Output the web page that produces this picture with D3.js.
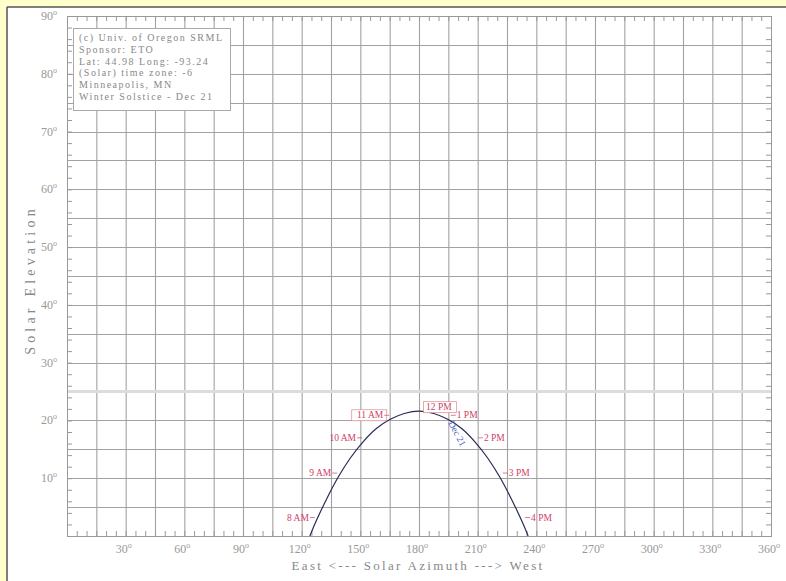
<!DOCTYPE html>
<meta charset="utf-8">
<style>
    html,
    body {
        margin: 0;
        padding: 0;
        background: #fff;
        overflow: hidden;
    }

    svg {
        display: block;
        font-family: "Liberation Serif", "DejaVu Serif", serif;
    }
</style>

<body>
    <svg width="786" height="581"></svg>
    <script src="https://cdn.jsdelivr.net/npm/d3@7"></script>
    <script>
        // sun path, winter solstice (azimuth deg, elevation deg)
        const azimuth = [124.2, 127.3, 132.9, 138.7, 144.9, 151.4, 158.2, 165.3, 172.5, 180, 187.5, 194.7, 201.8, 208.6, 215.1, 221.3, 227.1, 232.7, 235.8];
        const elevation = [0, 2.5, 6.5, 10.2, 13.5, 16.3, 18.6, 20.2, 21.2, 21.6, 21.2, 20.2, 18.6, 16.3, 13.5, 10.2, 6.5, 2.5, 0];

        // hourly marks
        const hourNames = ["8 AM", "9 AM", "10 AM", "11 AM", "12 PM", "1 PM", "2 PM", "3 PM", "4 PM"];
        const hourAz = [127.3, 138.7, 151.4, 165.3, 180, 194.7, 208.6, 221.3, 232.7];
        const hourEl = [2.5, 10.2, 16.3, 20.2, 21.6, 20.2, 16.3, 10.2, 2.5];

        const xTicks = [30, 60, 90, 120, 150, 180, 210, 240, 270, 300, 330, 360];
        const yTicks = [10, 20, 30, 40, 50, 60, 70, 80, 90];

        const infoLines = [
            "(c) Univ. of Oregon SRML",
            "Sponsor: ETO",
            "Lat: 44.98 Long: -93.24",
            "(Solar) time zone: -6",
            "Minneapolis, MN",
            "Winter Solstice - Dec 21"
        ];

        const svg = d3.select("svg");
        const x = d3.scaleLinear().domain([0, 360]).range([67, 771]);
        const y = d3.scaleLinear().domain([0, 90]).range([536, 16]);

        // yellow page edge only on top and left
        svg.append("rect").attr("width", 7).attr("height", 581).attr("fill", "#ffffcc");
        svg.append("rect").attr("width", 786).attr("height", 7).attr("fill", "#ffffcc");
        svg.append("line").attr("x1", 7).attr("x2", 7).attr("y1", 7).attr("y2", 581)
            .attr("stroke", "#555").attr("stroke-width", 1.5);
        svg.append("line").attr("x1", 7).attr("x2", 786).attr("y1", 7).attr("y2", 7)
            .attr("stroke", "#555").attr("stroke-width", 1.5);

        const grid = svg.append("g").attr("stroke", "#a2a2a2").attr("stroke-width", 1.1).attr("fill", "none");
        grid.selectAll(".gx").data(d3.range(15, 360, 15)).join("line")
            .attr("x1", d => x(d) + 0.5).attr("x2", d => x(d) + 0.5)
            .attr("y1", y(90)).attr("y2", y(0));
        grid.selectAll(".gy").data(d3.range(5, 90, 5)).join("line")
            .attr("y1", d => Math.round(y(d)) + 0.5).attr("y2", d => Math.round(y(d)) + 0.5)
            .attr("x1", x(0)).attr("x2", x(360));

        // faint band across at 25 deg
        svg.append("line").attr("x1", x(0)).attr("x2", x(360))
            .attr("y1", y(25)).attr("y2", y(25))
            .attr("stroke", "#ddd").attr("stroke-width", 3);

        // frame
        svg.append("rect").attr("x", x(0) + 0.5).attr("y", y(90) + 0.5)
            .attr("width", x(360) - x(0)).attr("height", y(0) - y(90))
            .attr("fill", "none").attr("stroke", "#999");

        // minor ticks, all four sides, pointing in
        const ticks = svg.append("g").attr("stroke", "#999");
        d3.range(0, 361, 5).forEach(d => {
            ticks.append("line").attr("x1", x(d) + 0.5).attr("x2", x(d) + 0.5).attr("y1", y(0)).attr("y2", y(0) - 5);
            ticks.append("line").attr("x1", x(d) + 0.5).attr("x2", x(d) + 0.5).attr("y1", y(90)).attr("y2", y(90) + 5);
        });
        d3.range(0, 91, 2).forEach(d => {
            ticks.append("line").attr("y1", y(d) + 0.5).attr("y2", y(d) + 0.5).attr("x1", x(0)).attr("x2", x(0) + 5);
            ticks.append("line").attr("y1", y(d) + 0.5).attr("y2", y(d) + 0.5).attr("x1", x(360)).attr("x2", x(360) - 5);
        });

        // tick labels
        const lab = svg.append("g").attr("fill", "#999").attr("font-size", 12);
        xTicks.forEach(d => {
            const t = lab.append("text").attr("x", x(d) - 2).attr("y", 553).attr("text-anchor", "middle");
            t.append("tspan").text(d);
            t.append("tspan").attr("font-size", 8).attr("dy", -5).text("o");
        });
        yTicks.forEach(d => {
            const t = lab.append("text").attr("x", 57).attr("y", y(d) + 4).attr("text-anchor", "end");
            t.append("tspan").text(d);
            t.append("tspan").attr("font-size", 8).attr("dy", -5).text("o");
        });

        // axis titles
        svg.append("text").attr("x", 418).attr("y", 570).attr("text-anchor", "middle")
            .attr("font-size", 13).attr("fill", "#888").attr("letter-spacing", 2.3)
            .text("East <--- Solar Azimuth ---> West");
        svg.append("text").attr("transform", "translate(35,280) rotate(-90)").attr("text-anchor", "middle")
            .attr("font-size", 14).attr("fill", "#888").attr("letter-spacing", 4.2)
            .text("Solar Elevation");

        // info box
        svg.append("rect").attr("x", 73.5).attr("y", 28.5).attr("width", 157).attr("height", 82)
            .attr("fill", "#fff").attr("stroke", "#aaa");
        svg.append("g").attr("fill", "#888").attr("font-size", 10).attr("letter-spacing", 1.5)
            .selectAll("text").data(infoLines).join("text")
            .attr("x", 79).attr("y", (d, i) => 41 + i * 11.8)
            .text(d => d);

        // sun path
        const pts = azimuth.map((a, i) => [a, elevation[i]]);
        svg.append("path").datum(pts)
            .attr("d", d3.line().x(d => x(d[0])).y(d => y(d[1])).curve(d3.curveCatmullRom))
            .attr("fill", "none").attr("stroke", "#2a2a55").attr("stroke-width", 1.2);

        // hour labels
        const hl = svg.append("g").attr("font-size", 9.5).attr("fill", "#d0406a");
        hourNames.forEach((name, i) => {
            const px = x(hourAz[i]), py = y(hourEl[i]);
            const am = i < 4;
            if (i === 4) {
                hl.append("rect").attr("x", px + 4.5).attr("y", py - 9.5).attr("width", 33).attr("height", 11)
                    .attr("fill", "#fff").attr("stroke", "#d88").attr("stroke-width", 0.7);
                hl.append("text").attr("x", px + 7).attr("y", py - 1).text(name);
                return;
            }
            if (i === 3) {
                hl.append("rect").attr("x", px - 38.5).attr("y", py - 9.5).attr("width", 35).attr("height", 11)
                    .attr("fill", "#fff").attr("stroke", "#d88").attr("stroke-width", 0.7);
            }
            hl.append("line").attr("stroke", "#d0406a").attr("stroke-width", 0.7)
                .attr("x1", am ? px - 6 : px + 3).attr("x2", am ? px - 1 : px + 8)
                .attr("y1", py - 4).attr("y2", py - 4);
            hl.append("text").attr("x", am ? px - 7 : px + 9).attr("y", py - 1)
                .attr("text-anchor", am ? "end" : "start").text(name);
        });

        // date tag along curve
        svg.append("text").attr("transform", "translate(448,423) rotate(62)")
            .attr("font-size", 9.5).attr("fill", "#5060c0").text("Dec 21");
    </script>
</body>
